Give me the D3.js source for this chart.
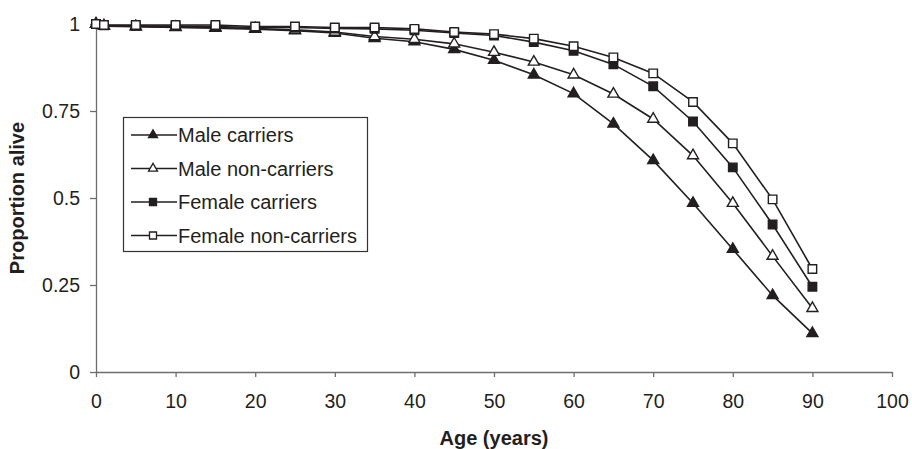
<!DOCTYPE html>
<html>
<head>
<meta charset="utf-8">
<script src="https://cdn.jsdelivr.net/npm/d3@7"></script>
<style>
  body { margin: 0; background: #fff; }
  svg { display: block; font-family: "Liberation Sans", Arial, sans-serif; }
  .axis text { font-size: 19.5px; fill: #231f20; }
  .axis path, .axis line { stroke: #6d6e71; stroke-width: 1.3; }
  .title { font-size: 20px; font-weight: bold; fill: #231f20; }
  .legend text { font-size: 20px; fill: #231f20; }
</style>
</head>
<body>
<svg id="vis" width="912" height="449"></svg>
<script>
/**
 * Data
 */
const AGES = [0, 1, 5, 10, 15, 20, 25, 30, 35, 40, 45, 50, 55, 60, 65, 70, 75, 80, 85, 90];
const MALE_CARRIERS = [1, 0.994, 0.992, 0.99, 0.988, 0.985, 0.981, 0.974, 0.959, 0.949, 0.927, 0.896, 0.854, 0.800, 0.713, 0.608, 0.485, 0.353, 0.220, 0.111];
const MALE_NONCARRIERS = [1, 0.995, 0.993, 0.991, 0.99, 0.987, 0.983, 0.977, 0.964, 0.956, 0.943, 0.919, 0.891, 0.854, 0.799, 0.727, 0.622, 0.485, 0.333, 0.183];
const FEMALE_CARRIERS = [1, 0.996, 0.995, 0.994, 0.993, 0.99, 0.99, 0.987, 0.986, 0.982, 0.974, 0.967, 0.948, 0.923, 0.884, 0.821, 0.720, 0.588, 0.424, 0.245];
const FEMALE_NONCARRIERS = [1, 0.997, 0.997, 0.997, 0.997, 0.993, 0.993, 0.99, 0.99, 0.986, 0.977, 0.971, 0.958, 0.936, 0.904, 0.858, 0.776, 0.657, 0.496, 0.296];
const SERIES_NAMES = ["Male carriers", "Male non-carriers", "Female carriers", "Female non-carriers"];
const X_TICKS = [0, 10, 20, 30, 40, 50, 60, 70, 80, 90, 100];
const Y_TICKS = [0, 0.25, 0.5, 0.75, 1];

const INK = "#231f20";
const MARGINS = {top: 24, bottom: 77, left: 96, right: 20};
const WIDTH = 912, HEIGHT = 449;

// marker styles per series: shape + filled or not
const MARKERS = [
    {shape: "tri", fill: INK},
    {shape: "tri", fill: "#fff"},
    {shape: "sq", fill: INK},
    {shape: "sq", fill: "#fff"}
];

window.onload = function () {
    draw();
};

function markerPath(shape, s) {
    if (shape === "sq") return d3.symbol(d3.symbolSquare, s * s)();
    return d3.symbol(d3.symbolTriangle, Math.sqrt(3) / 4 * s * s)();
}

function draw() {
    const svg = d3.select("#vis");
    const allValues = [MALE_CARRIERS, MALE_NONCARRIERS, FEMALE_CARRIERS, FEMALE_NONCARRIERS];
    const series = SERIES_NAMES.map((name, i) => ({
        name: name,
        marker: MARKERS[i],
        points: AGES.map((a, j) => ({age: a, v: allValues[i][j]}))
    }));

    const x = d3.scaleLinear().domain([0, 100]).range([MARGINS.left, WIDTH - MARGINS.right]);
    const y = d3.scaleLinear().domain([0, 1]).range([HEIGHT - MARGINS.bottom, MARGINS.top]);

    // axes
    svg.append("g")
        .attr("class", "axis")
        .attr("transform", `translate(0,${y(0)})`)
        .call(d3.axisBottom(x).tickValues(X_TICKS).tickSizeInner(5).tickSizeOuter(0).tickPadding(17))
        .selectAll("text").attr("font-family", null);

    svg.append("g")
        .attr("class", "axis")
        .attr("transform", `translate(${x(0)},0)`)
        .call(d3.axisLeft(y).tickValues(Y_TICKS).tickFormat(d => String(d)).tickSizeInner(6).tickSizeOuter(0).tickPadding(10))
        .selectAll("text").attr("font-family", null);

    svg.selectAll(".axis").attr("font-size", null).attr("font-family", null);

    // axis titles
    svg.append("text")
        .attr("class", "title")
        .attr("x", (x(0) + x(100)) / 2)
        .attr("y", 445)
        .style("text-anchor", "middle")
        .text("Age (years)");

    svg.append("text")
        .attr("class", "title")
        .attr("transform", `translate(24,${(y(0) + y(1)) / 2}) rotate(-90)`)
        .style("text-anchor", "middle")
        .text("Proportion alive");

    // lines
    const line = d3.line().x(d => x(d.age)).y(d => y(d.v));
    const groups = svg.selectAll("g.layer")
        .data(series)
        .enter().append("g")
        .attr("class", "layer");

    groups.append("path")
        .attr("d", d => line(d.points))
        .attr("fill", "none")
        .attr("stroke", INK)
        .attr("stroke-width", 1.6);

    groups.each(function (s) {
        d3.select(this).selectAll("path.pt")
            .data(s.points)
            .enter().append("path")
            .attr("class", "pt")
            .attr("transform", d => `translate(${x(d.age)},${y(d.v)})`)
            .attr("d", markerPath(s.marker.shape, s.marker.shape === "sq" ? 8.5 : 11))
            .attr("fill", s.marker.fill)
            .attr("stroke", INK)
            .attr("stroke-width", 1.4);
    });

    // legend
    const lg = svg.append("g").attr("class", "legend");
    lg.append("rect")
        .attr("x", 123.5).attr("y", 117.5)
        .attr("width", 244).attr("height", 134)
        .attr("fill", "#fff")
        .attr("stroke", "#333")
        .attr("stroke-width", 1.2);

    const rows = lg.selectAll("g.row")
        .data(series)
        .enter().append("g")
        .attr("class", "row")
        .attr("transform", (d, i) => `translate(0,${135 + i * 33.5})`);

    rows.append("line")
        .attr("x1", 131).attr("x2", 177)
        .attr("stroke", INK).attr("stroke-width", 1.6);

    rows.append("path")
        .attr("transform", "translate(153,0)")
        .attr("d", d => markerPath(d.marker.shape, d.marker.shape === "sq" ? 7 : 9))
        .attr("fill", d => d.marker.fill)
        .attr("stroke", INK)
        .attr("stroke-width", 1.3);

    rows.append("text")
        .attr("x", 178)
        .attr("dy", "0.35em")
        .text(d => d.name);
}
</script>
</body>
</html>
